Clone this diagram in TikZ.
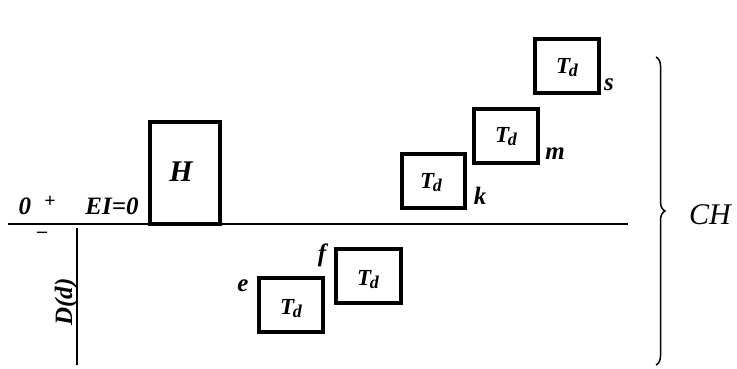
\documentclass[tikz,border=0pt]{standalone}
\usepackage{fontspec}
\setmainfont{Liberation Serif}
\usetikzlibrary{decorations.pathreplacing}
\newcommand{\Tdd}{T\kern-1.5pt\raisebox{-3pt}{\fontsize{18}{18}\selectfont d}}
\begin{document}
\begin{tikzpicture}[x=1pt,y=-1pt,
  fbox/.style={draw,line width=3.3pt,inner sep=0pt},
  lbl/.style={font=\bfseries\itshape\fontsize{25}{25}\selectfont,inner sep=0pt},
  tdl/.style={font=\bfseries\itshape\fontsize{23}{23}\selectfont,inner sep=0pt},
  axis/.style={line width=1.8pt}]
\useasboundingbox (0,0) rectangle (737,369);
% axes
\coordinate (hl) at (8,224);
\coordinate (hr) at (628,224);
\coordinate (vt) at (77,228);
\coordinate (vb) at (77,365);
\draw[axis] (hl) -- (hr);
\draw[axis] (vt) -- (vb);
% H box
\draw[fbox] (150,122) rectangle (220,224);
\node[lbl,font=\bfseries\itshape\fontsize{30}{30}\selectfont] (H) at (181,172) {H};
% Td boxes
\draw[fbox] (402,154) rectangle (465,208);
\node[tdl] (tk) at (431,183) {\Tdd};
\node[lbl] (k) at (480,196) {k};
\draw[fbox] (474,109) rectangle (538,163);
\node[tdl] (tm) at (506,137) {\Tdd};
\node[lbl] (m) at (555,154) {m};
\draw[fbox] (535,39) rectangle (599,93);
\node[tdl] (ts) at (567,68) {\Tdd};
\node[lbl] (s) at (609,85) {s};
\draw[fbox] (336,249) rectangle (401,303);
\node[tdl] (tf) at (368,280) {\Tdd};
\node[lbl] (f) at (322,255) {f};
\draw[fbox] (259,278) rectangle (323,332);
\node[tdl] (te) at (291,309) {\Tdd};
\node[lbl] (e) at (243,286) {e};
% axis labels
\node[lbl] (zero) at (25,206) {0};
\node[font=\bfseries\fontsize{20}{20}\selectfont,inner sep=0pt] (plus) at (50,202) {+};
\node[font=\bfseries\fontsize{20}{20}\selectfont,inner sep=0pt] (minus) at (42,235) {–};
\node[lbl] (EI) at (112,206) {EI=0};
\node[lbl,rotate=90] (D) at (66,302) {D(d)};
% brace
\coordinate (bt) at (656,57);
\coordinate (bb) at (656,365);
\draw[line width=1.5pt,decorate,decoration={brace,amplitude=9pt,mirror}] (bb) -- (bt);
\node[font=\itshape\fontsize{30}{30}\selectfont,inner sep=0pt] (CH) at (710,215) {CH};
\end{tikzpicture}
\end{document}
